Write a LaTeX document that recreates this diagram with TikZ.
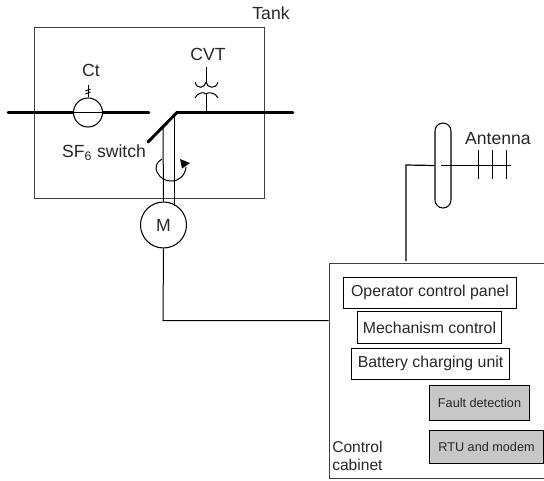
\documentclass[tikz,border=0pt]{standalone}
\usepackage{fontspec}
\setmainfont{Liberation Sans}
\usetikzlibrary{calc,shapes,arrows,positioning}

\begin{document}
\begin{tikzpicture}[x=0.75pt,y=-0.75pt,
			frame/.style={draw,inner sep=0pt,anchor=north west,line width=0.8pt,black!75},
			unit/.style={draw,inner sep=0pt,anchor=north west,line width=0.8pt,text=black!85,font=\fontsize{11.9}{14}\selectfont},
			graybox/.style={unit,fill=black!22,font=\fontsize{9.5}{11}\selectfont},
			caption/.style={inner sep=0pt,text=black!85,font=\fontsize{13.2}{15}\selectfont},
			small caption/.style={caption,anchor=west,font=\fontsize{11.7}{14}\selectfont},
			ring/.style={draw,circle,inner sep=0pt,line width=0.8pt},
			bus/.style={line width=2.2pt,line cap=round},
			wire/.style={line width=0.75pt,black}
			]
			\useasboundingbox (0,0) rectangle (544,480);
			\node [frame,minimum width=230.5pt*0.75,minimum height=171.5pt*0.75](tank) at (33.5,26.5) {};
			\node [frame,minimum width=217pt*0.75,minimum height=215pt*0.75](cabinet) at (328.5,263) {};
			\node [caption](tanklabel) at (271,13) {Tank};
			\node [caption](ctlabel) at (91,70) {Ct};
			\node [caption](cvtlabel) at (208,54) {CVT};
			\node [caption](switchlabel) at (104,153) {SF\textsubscript{6} switch};
			\node [caption](antennalabel) at (498,139) {Antenna};

			% bus and switch
			\coordinate (b1) at (8,112.5);
			\coordinate (b2) at (149,112.5);
			\coordinate (b3) at (177,112.5);
			\coordinate (b4) at (293,112.5);
			\coordinate (blade) at (148,142);
			\draw[bus] (b1) -- (b2);
			\draw[bus] (b4) -- (b3) -- (blade);

			% current transformer
			\node [ring,minimum size=29pt*0.75,fill=white](ct) at (88,112.5) {};
			\draw[wire] (ct.west) -- (ct.east);
			\coordinate (cttop) at (88,85);
			\draw[wire] (ct.north) -- (cttop);
			\draw[wire] (85.5,91) -- (90.5,89);
			\draw[wire] (85.5,94) -- (90.5,92);

			% voltage transformer
			\coordinate (cvt1) at (206,94);
			\coordinate (cvt2) at (206,82);
			\coordinate (cvttop) at (206,67);
			\draw[wire] (206,112.5) -- (cvt1);
			\draw[wire] (cvttop) -- (cvt2);
			\draw[wire] (cvt1) .. controls (205,92) and (197,92) .. (195,98);
			\draw[wire] (cvt1) .. controls (207,92) and (216,92) .. (218,98);
			\draw[wire] (cvt2) .. controls (205,88) and (197,90) .. (195,82);
			\draw[wire] (cvt2) .. controls (207,88) and (216,90) .. (218,82);

			% motor and shaft
			\node [ring,minimum size=46pt*0.75](motor) at (163.5,225) {};
			\node [caption] at (motor) {M};
			\coordinate (s1) at (163,128);
			\coordinate (s2) at (174.5,112.5);
			\draw[wire] (s1) -- (motor.north);
			\draw[wire] (s2) -- (174.5,206);
			\draw[wire] (162,159) .. controls (156,162) and (155,168) .. (157,172) .. controls (160,178) and (165,181) .. (171,181) .. controls (179,181) and (185,176) .. (186,167);
			\fill[black] (180,159) -- (190,163) -- (182,168.5) -- cycle;

			% antenna
			\node [draw,rounded rectangle,rotate=90,minimum width=85pt*0.75,minimum height=16pt*0.75,inner sep=0pt,line width=0.8pt](pill) at (443,165.5) {};
			\coordinate (feed) at (406,165);
			\coordinate (boomstart) at (441,165);
			\coordinate (boomend) at (511,165);
			\draw[wire,line width=0.9pt] (pill.north) -- (feed) -- (406,261);
			\draw[wire] (boomstart) -- (boomend);
			\foreach \ex in {478.5,492.5,506}
			\draw[wire] (\ex,150) -- (\ex,179);

			% cabinet contents
			\node [unit,minimum width=173pt*0.75,minimum height=31.5pt*0.75](panel) at (343,276.5) {Operator control panel};
			\node [unit,minimum width=144pt*0.75,minimum height=32pt*0.75](mech) at (357,311) {Mechanism control};
			\node [unit,minimum width=158pt*0.75,minimum height=31.5pt*0.75](charger) at (351,347.5) {Battery charging unit};
			\node [graybox,minimum width=100pt*0.75,minimum height=35pt*0.75](fault) at (429,385) {Fault detection};
			\node [graybox,minimum width=114pt*0.75,minimum height=33pt*0.75](rtu) at (429,430) {RTU and modem};
			\node [small caption](cab1) at (332,447) {Control};
			\node [small caption](cab2) at (332,465) {cabinet};

			\draw[wire] (motor.south) -- (163,320.5) -- (328.5,320.5);
		\end{tikzpicture}
\end{document}
